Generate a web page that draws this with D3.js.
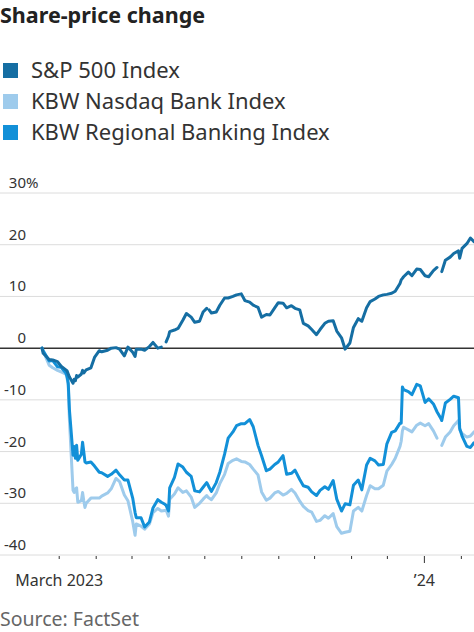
<!DOCTYPE html>
<html>
<head>
<meta charset="utf-8">
<script src="https://cdn.jsdelivr.net/npm/d3@7"></script>
<style>
  html, body { margin: 0; padding: 0; background: #fff; }
  svg { display: block; font-family: "Noto Sans", Roboto, sans-serif; }
</style>
</head>
<body>
<svg id="chart"></svg>
<script>
const width = 474;
const height = 632;

// data (percent change since Feb 15, 2023)
const dates = [
  "2023-02-15","2023-02-16","2023-02-21","2023-02-24","2023-02-28","2023-03-03","2023-03-07","2023-03-08",
  "2023-03-09","2023-03-10","2023-03-13","2023-03-14","2023-03-15","2023-03-16","2023-03-17","2023-03-20",
  "2023-03-21","2023-03-22","2023-03-23","2023-03-24","2023-03-28","2023-03-31","2023-04-04","2023-04-06",
  "2023-04-11","2023-04-14","2023-04-18","2023-04-21","2023-04-25","2023-04-28","2023-05-02","2023-05-04",
  "2023-05-05","2023-05-09","2023-05-12","2023-05-16","2023-05-19","2023-05-23","2023-05-26","2023-05-29",
  "2023-05-30","2023-06-01","2023-06-02","2023-06-06","2023-06-09","2023-06-13","2023-06-16","2023-06-20",
  "2023-06-23","2023-06-27","2023-06-30","2023-07-03","2023-07-04","2023-07-05","2023-07-07","2023-07-11",
  "2023-07-14","2023-07-18","2023-07-21","2023-07-25","2023-07-28","2023-08-01","2023-08-04","2023-08-08",
  "2023-08-11","2023-08-15","2023-08-18","2023-08-22","2023-08-25","2023-08-29","2023-09-01","2023-09-05",
  "2023-09-08","2023-09-12","2023-09-15","2023-09-19","2023-09-22","2023-09-26","2023-09-29","2023-10-03",
  "2023-10-06","2023-10-10","2023-10-13","2023-10-17","2023-10-20","2023-10-24","2023-10-27","2023-10-31",
  "2023-11-03","2023-11-07","2023-11-10","2023-11-14","2023-11-17","2023-11-21","2023-11-24","2023-11-28",
  "2023-12-01","2023-12-05","2023-12-08","2023-12-12","2023-12-13","2023-12-14","2023-12-15","2023-12-19",
  "2023-12-22","2023-12-26","2023-12-29","2024-01-02","2024-01-05","2024-01-09","2024-01-12","2024-01-15",
  "2024-01-16","2024-01-19","2024-01-23","2024-01-26","2024-01-30","2024-01-31","2024-02-02","2024-02-06",
  "2024-02-09","2024-02-12"
];

const sp500 = [
  0, -1.0, -2.2, -2.3, -2.6, -3.5, -4.2, -4.4,
  -5.0, -5.6, -6.8, -6.0, -6.3, -5.3, -5.6, -5.0,
  -4.3, -4.8, -4.5, -4.2, -3.8, -1.8, -0.5, -0.7,
  -0.4, 0.0, 0.1, -0.2, -1.5, 0.2, -0.8, -1.6,
  -0.2, -0.2, -0.4, 0.3, 1.1, 0.0, 0.2, null,
  1.2, 2.3, 3.2, 3.5, 3.8, 5.4, 6.7, 6.0,
  5.0, 5.2, 7.0, 7.7, null, 7.4, 6.8, 7.0,
  8.3, 9.7, 9.7, 10.0, 10.3, 10.5, 9.2, 8.9,
  8.3, 7.9, 6.0, 6.5, 6.4, 7.8, 8.8, 8.7,
  7.8, 8.2, 7.7, 7.4, 4.8, 4.3, 3.6, 2.6,
  3.6, 4.8, 5.2, 5.3, 3.3, 2.0, -0.2, 1.0,
  4.0, 5.7, 5.2, 7.8, 9.0, 9.5, 10.0, 10.3,
  10.4, 10.6, 11.0, 12.5, 13.2, 13.5, 13.8, 14.7,
  14.0, 15.3, 15.2, 14.0, 13.8, 15.0, 15.6, null,
  14.8, 17.0, 17.6, 18.3, 18.8, 17.4, 19.3, 20.2,
  21.3, 20.6
];

const kbwBank = [
  0, -0.6, -3.3, -3.8, -4.3, -4.6, -5.0, -5.8,
  -7.2, -14.0, -27.5, -27.9, -27.2, -27.0, -29.8, -29.5,
  -27.9, -29.5, -30.8, -30.0, -29.0, -29.0, -29.0, -28.6,
  -28.0, -27.2, -25.2, -25.8, -28.4, -29.5, -33.5, -36.2,
  -34.0, -34.4, -35.0, -34.0, -31.8, -31.0, -31.5, -31.4,
  -31.3, -32.5, -29.2, -28.2, -27.0, -27.9, -27.6, -28.8,
  -30.8, -30.0, -29.2, -28.5, -28.8, -29.0, -29.3, -28.0,
  -26.2, -24.4, -22.3, -21.7, -21.4, -21.9, -22.0, -22.5,
  -23.4, -24.5, -27.8, -29.4, -29.0, -28.0, -27.7, -28.4,
  -28.1, -27.3, -28.0, -29.6, -30.6, -31.4, -31.7, -33.5,
  -33.3, -32.4, -32.9, -32.0, -34.5, -35.8, -35.6, -35.4,
  -31.5, -30.8, -31.5, -28.5, -26.6, -27.2, -27.2, -26.5,
  -23.8, -22.5, -21.3, -19.0, -18.0, -16.0, -15.3, -15.8,
  -16.2, -14.9, -14.5, -15.0, -14.6, -16.0, -17.4, null,
  -18.8, -17.2, -16.2, -15.0, -14.0, -15.8, -16.5, -17.2,
  -17.0, -16.2
];

const kbwRegional = [
  0, -0.5, -2.5, -2.4, -3.6, -3.7, -4.8, -5.5,
  -6.8, -12.0, -20.7, -19.0, -21.3, -18.8, -21.7, -20.5,
  -18.2, -20.0, -22.0, -22.2, -22.0, -22.8, -24.0, -24.1,
  -24.8, -24.4, -23.6, -24.5, -25.5, -25.5, -29.0, -31.8,
  -32.8, -32.8, -34.6, -33.6, -30.9, -29.3, -29.8, -30.2,
  -30.4, -31.5, -27.0, -25.0, -22.4, -23.0, -24.0, -24.8,
  -27.6, -27.8, -26.9, -26.0, -26.4, -26.9, -27.7, -26.0,
  -24.0, -20.5, -17.4, -16.2, -15.0, -14.6, -14.6, -13.8,
  -15.2, -18.8, -20.8, -23.7, -23.4, -22.5, -22.0, -20.8,
  -24.4, -24.2, -23.6, -25.4, -26.6, -26.9, -27.8, -28.5,
  -27.5, -26.8, -27.3, -25.6, -29.2, -31.5, -30.1, -30.3,
  -26.5, -25.5, -27.4, -22.6, -21.3, -21.8, -22.6, -22.5,
  -18.5, -16.3, -16.0, -14.5, -14.5, -7.5, -8.0, -8.4,
  -9.0, -7.0, -7.3, -10.5, -9.8, -10.8, -12.3, -13.5,
  -14.0, -10.6, -9.9, -9.3, -9.6, -15.5, -17.0, -19.0,
  -19.2, -18.3
];

const seriesNames = ["S&P 500 Index", "KBW Nasdaq Bank Index", "KBW Regional Banking Index"];
const seriesColors = ["#156ea3", "#9ecbec", "#1290d8"];
const yTicks = [30, 20, 10, 0, -10, -20, -30, -40];

const parse = d3.timeParse("%Y-%m-%d");

const svg = d3.select("#chart")
    .attr("width", width)
    .attr("height", height);

// title
svg.append("text")
    .attr("x", 0)
    .attr("y", 23)
    .attr("font-size", 21.5)
    .attr("font-weight", 700)
    .attr("fill", "#222")
    .text("Share-price change");

// legend
const legend = svg.append("g")
    .selectAll("g")
    .data(seriesNames)
    .enter().append("g")
    .attr("transform", (d, i) => `translate(0,${63 + i * 31})`);

legend.append("rect")
    .attr("x", 3)
    .attr("width", 15)
    .attr("height", 15)
    .attr("fill", (d, i) => seriesColors[i]);

legend.append("text")
    .attr("x", 31)
    .attr("y", 15)
    .attr("font-size", 22)
    .attr("fill", "#333")
    .text(d => d);

// scales
const x = d3.scaleTime()
    .domain([parse("2023-02-15"), parse("2024-02-12")])
    .range([42, 474]);

const y = d3.scaleLinear()
    .domain([-40, 30])
    .range([555, 193]);

// gridlines + y labels
const grid = svg.append("g");
grid.selectAll("line")
    .data(yTicks)
    .enter().append("line")
    .attr("x1", 0)
    .attr("x2", width)
    .attr("y1", d => y(d))
    .attr("y2", d => y(d))
    .attr("stroke", d => d === 0 ? "#333" : "#dcdcdc")
    .attr("stroke-width", d => d === 0 ? 1.5 : 1);

grid.selectAll("text")
    .data(yTicks)
    .enter().append("text")
    .attr("x", 26)
    .attr("y", d => y(d) - 5)
    .attr("text-anchor", "end")
    .attr("font-size", 15)
    .attr("fill", "#333")
    .text(d => d < 0 ? "-" + Math.abs(d) : d);

grid.append("text")
    .attr("x", 26)
    .attr("y", y(30) - 5)
    .attr("font-size", 15)
    .attr("fill", "#333")
    .text("%");

// lines
const rows = dates.map((d, i) => ({
    date: parse(d),
    values: [sp500[i], kbwBank[i], kbwRegional[i]]
}));

const line = k => d3.line()
    .defined(d => d.values[k] != null)
    .x(d => x(d.date))
    .y(d => y(d.values[k]));

// draw light bank line first, regional next, S&P on top
[1, 2, 0].forEach(k => {
    svg.append("path")
        .datum(rows)
        .attr("fill", "none")
        .attr("stroke", seriesColors[k])
        .attr("stroke-width", 3)
        .attr("stroke-linejoin", "round")
        .attr("stroke-linecap", "round")
        .attr("d", line(k));
});

// x axis
const xAxis = d3.axisBottom(x)
    .ticks(d3.timeMonth.every(1))
    .tickSize(4)
    .tickPadding(16)
    .tickFormat(d => {
        if (d.getMonth() === 2 && d.getFullYear() === 2023) return "March 2023";
        if (d.getMonth() === 0) return "\u2019" + String(d.getFullYear()).slice(2);
        return "";
    });

const gx = svg.append("g")
    .attr("transform", `translate(0,${y(-40)})`)
    .call(xAxis);

gx.select(".domain").remove();
gx.selectAll(".tick line")
    .attr("stroke", "#333")
    .attr("y1", 1)
    .attr("y2", d => d.getMonth() === 0 ? 8 : 4);
gx.selectAll(".tick text")
    .attr("font-family", "'Noto Sans', Roboto, sans-serif")
    .attr("font-size", 16)
    .attr("fill", "#333");

// source
svg.append("text")
    .attr("x", 0)
    .attr("y", 626)
    .attr("font-size", 19.5)
    .attr("fill", "#666")
    .text("Source: FactSet");
</script>
</body>
</html>
